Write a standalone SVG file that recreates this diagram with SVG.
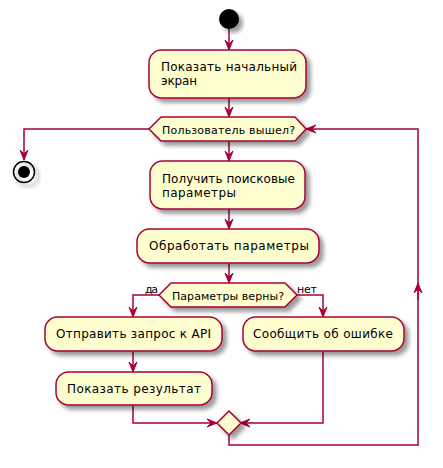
<svg xmlns="http://www.w3.org/2000/svg" width="443" height="468" viewBox="0 0 443 468">
<defs>
<filter id="sh" x="-20%" y="-20%" width="150%" height="150%">
<feGaussianBlur in="SourceAlpha" stdDeviation="2"/>
<feOffset dx="4" dy="4" result="b"/>
<feComponentTransfer><feFuncA type="linear" slope="0.4"/></feComponentTransfer>
<feMerge><feMergeNode/><feMergeNode in="SourceGraphic"/></feMerge>
</filter>
<marker id="ah" viewBox="0 0 12 10" refX="10" refY="5" markerWidth="12" markerHeight="10" markerUnits="userSpaceOnUse" orient="auto">
<path d="M0,1 L10,5 L0,9 L4,5 Z" fill="#A80036" stroke="#A80036" stroke-width="1"/>
</marker>
</defs>
<style>
.n{fill:#FEFECE;stroke:#A80036;stroke-width:1.5;filter:url(#sh)}
.t{font-family:"DejaVu Sans",sans-serif;font-size:12px;fill:#000}
.s{font-family:"DejaVu Sans",sans-serif;font-size:11px;fill:#000}
.c{fill:none;stroke:#A80036;stroke-width:1.5}
</style>
<g id="connectors">
<path class="c" d="M229,29 L229,50" marker-end="url(#ah)"/>
<path class="c" d="M229,98 L229,117" marker-end="url(#ah)"/>
<path class="c" d="M149,129 L24,129 L24,160" marker-end="url(#ah)"/>
<path class="c" d="M229,141 L229,161" marker-end="url(#ah)"/>
<path class="c" d="M229,209 L229,229" marker-end="url(#ah)"/>
<path class="c" d="M229,263 L229,283" marker-end="url(#ah)"/>
<path class="c" d="M159,295 L133,295 L133,317" marker-end="url(#ah)"/>
<path class="c" d="M297,295 L323,295 L323,317" marker-end="url(#ah)"/>
<path class="c" d="M133,351 L133,372" marker-end="url(#ah)"/>
<path class="c" d="M133,405 L133,423 L217,423" marker-end="url(#ah)"/>
<path class="c" d="M323,351 L323,423 L240,423" marker-end="url(#ah)"/>
<path class="c" d="M229,435 L229,445 L418,445 L418,129 L306,129" marker-end="url(#ah)"/>
<path class="c" d="M418,300 L418,283" marker-end="url(#ah)"/>
<text class="s" x="145" y="293" textLength="13" lengthAdjust="spacing">да</text>
<text class="s" x="297" y="293" textLength="20" lengthAdjust="spacing">нет</text>
</g>
<g id="start"><circle cx="229" cy="19" r="10" fill="#000" filter="url(#sh)"/></g>
<g id="end"><circle cx="24" cy="172" r="10.5" fill="none" stroke="#000" stroke-width="1.5" filter="url(#sh)"/><circle cx="24" cy="172" r="6" fill="#000"/></g>
<g id="show-start"><rect class="n" x="149" y="50" width="157" height="48" rx="12.5"/><text class="t" x="161" y="71" textLength="136" lengthAdjust="spacing">Показать начальный</text><text class="t" x="161" y="85" textLength="36" lengthAdjust="spacing">экран</text></g>
<g id="user-exited"><polygon class="n" points="149,129 161,117 295,117 306,129 295,141 161,141"/><text class="s" x="162" y="134" textLength="133" lengthAdjust="spacing">Пользователь вышел?</text></g>
<g id="get-params"><rect class="n" x="150" y="161" width="155" height="48" rx="12.5"/><text class="t" x="162" y="183" textLength="133" lengthAdjust="spacing">Получить поисковые</text><text class="t" x="162" y="197" textLength="74" lengthAdjust="spacing">параметры</text></g>
<g id="process-params"><rect class="n" x="137" y="229" width="182" height="34" rx="12.5"/><text class="t" x="149" y="250" textLength="160" lengthAdjust="spacing">Обработать параметры</text></g>
<g id="params-valid"><polygon class="n" points="159,295 171,283 285,283 297,295 285,307 171,307"/><text class="s" x="172" y="300" textLength="112" lengthAdjust="spacing">Параметры верны?</text></g>
<g id="send-request"><rect class="n" x="45" y="317" width="177" height="34" rx="12.5"/><text class="t" x="56" y="338" textLength="155" lengthAdjust="spacing">Отправить запрос к API</text></g>
<g id="report-error"><rect class="n" x="243" y="317" width="161" height="34" rx="12.5"/><text class="t" x="253" y="338" textLength="140" lengthAdjust="spacing">Сообщить об ошибке</text></g>
<g id="show-result"><rect class="n" x="56" y="372" width="156" height="33" rx="12.5"/><text class="t" x="67" y="393" textLength="134" lengthAdjust="spacing">Показать результат</text></g>
<g id="merge"><polygon class="n" points="229,411 241,423 229,435 217,423"/></g>
</svg>
